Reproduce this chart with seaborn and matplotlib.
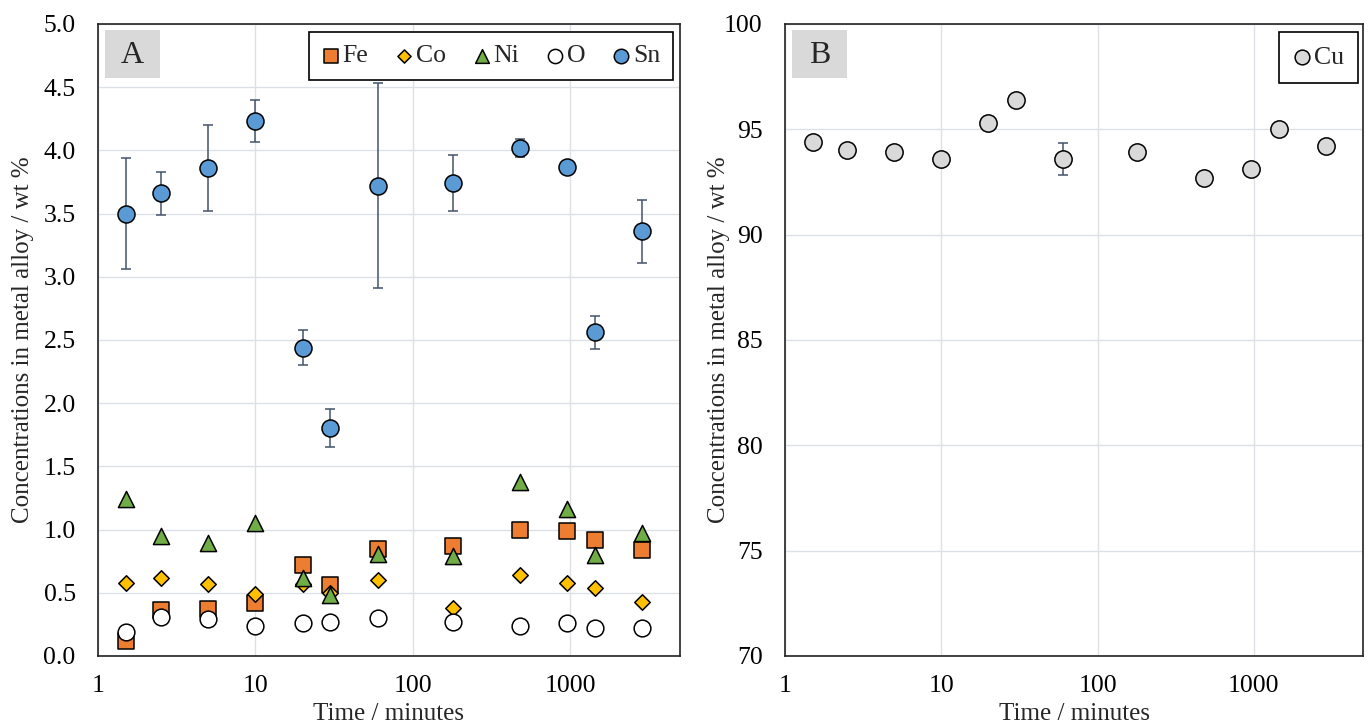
import matplotlib
matplotlib.use("Agg")
import matplotlib.pyplot as plt
import matplotlib.patches as mpatches
import pandas as pd
import seaborn as sns

# sampling times (minutes)
time_min = [1.5, 2.5, 5, 10, 20, 30, 60, 180, 480, 960, 1440, 2880]

fe = [0.12, 0.36, 0.37, 0.42, 0.72, 0.56, 0.85, 0.87, 1.00, 0.99, 0.92, 0.84]
co = [0.58, 0.62, 0.57, 0.49, 0.57, 0.50, 0.60, 0.38, 0.64, 0.58, 0.54, 0.43]
ni = [1.24, 0.95, 0.89, 1.05, 0.62, 0.48, 0.81, 0.79, 1.38, 1.16, 0.80, 0.97]
ox = [0.19, 0.31, 0.29, 0.24, 0.26, 0.27, 0.30, 0.27, 0.24, 0.26, 0.22, 0.22]
sn = [3.50, 3.66, 3.86, 4.23, 2.44, 1.80, 3.72, 3.74, 4.02, 3.87, 2.56, 3.36]
sn_err = [0.44, 0.17, 0.34, 0.165, 0.14, 0.15, 0.81, 0.22, 0.07, 0.03, 0.13, 0.25]

cu = [94.4, 94.0, 93.9, 93.6, 95.3, 96.4, 93.6, 93.9, 92.7, 93.1, 95.0, 94.2]
cu_err = [0.25, 0, 0, 0, 0, 0, 0.75, 0, 0, 0, 0, 0]

left_ticks = [0.0, 0.5, 1.0, 1.5, 2.0, 2.5, 3.0, 3.5, 4.0, 4.5, 5.0]
right_ticks = [70, 75, 80, 85, 90, 95, 100]
x_ticks = [1, 10, 100, 1000]

sns.set_theme(style="whitegrid")
plt.rcParams['font.family'] = ['Liberation Serif', 'DejaVu Serif']

fig = plt.figure(figsize=(13.7, 7.27), dpi=100)
ax_a = fig.add_axes([0.0715, 0.0977, 0.4248, 0.8693])
ax_b = fig.add_axes([0.573, 0.0977, 0.4219, 0.8693])

df = pd.DataFrame({"time": time_min, "Fe": fe, "Co": co, "Ni": ni, "O": ox, "Sn": sn, "Cu": cu})

err_col = "#44546A"

# panel A
ax_a.errorbar(time_min, sn, yerr=sn_err, fmt='none', ecolor=err_col, elinewidth=1.1,
              capsize=3.5, capthick=1.1, zorder=1)
series = [
    ("Fe", "s", "#ED7D31", 140),
    ("Co", "D", "#FFC000", 62),
    ("Ni", "^", "#70AD47", 135),
    ("O", "o", "white", 145),
    ("Sn", "o", "#5B9BD5", 150),
]
for name, mk, col, size in series:
    sns.scatterplot(data=df, x="time", y=name, ax=ax_a, marker=mk, color=col, s=size,
                    edgecolor="black", linewidth=1.1, label=name, zorder=3)

# panel B
ax_b.errorbar(time_min, cu, yerr=cu_err, fmt='none', ecolor=err_col, elinewidth=1.1,
              capsize=3.5, capthick=1.1, zorder=1)
sns.scatterplot(data=df, x="time", y="Cu", ax=ax_b, marker="o", color="#D9D9D9", s=155,
                edgecolor="black", linewidth=1.1, label="Cu", zorder=3)

for ax, ticks, fmt, tag in [(ax_a, left_ticks, "{:.1f}", "A"), (ax_b, right_ticks, "{:d}", "B")]:
    ax.set_xscale("log")
    ax.set_xlim(1, 5000)
    ax.set_ylim(ticks[0], ticks[-1])
    ax.set_xticks(x_ticks)
    ax.set_xticklabels([str(t) for t in x_ticks])
    ax.minorticks_off()
    ax.set_yticks(ticks)
    ax.set_yticklabels([fmt.format(t) for t in ticks])
    ax.tick_params(axis="both", labelsize=18.5, length=0, colors="black")
    ax.tick_params(axis="y", pad=16)
    ax.tick_params(axis="x", pad=14)
    ax.grid(True, color="#DDE1E6", linewidth=1.0)
    for sp in ax.spines.values():
        sp.set_color("#222222")
        sp.set_linewidth(1.2)
    ax.set_xlabel("Time / minutes", fontsize=18)
    ax.set_ylabel("Concentrations in metal alloy / wt %", fontsize=18)
    ax.add_patch(mpatches.Rectangle((0.012, 0.915), 0.095, 0.075, transform=ax.transAxes,
                                    facecolor="#D9D9D9", edgecolor="none", zorder=4))
    ax.text(0.0595, 0.9505, tag, transform=ax.transAxes, fontsize=23, ha="center",
            va="center", zorder=5)

ax_a.xaxis.set_label_coords(0.5, -0.074)
ax_b.xaxis.set_label_coords(0.5, -0.074)
ax_a.yaxis.set_label_coords(-0.11, 0.5)
ax_b.yaxis.set_label_coords(-0.095, 0.5)

leg_a = ax_a.legend(loc="upper right", bbox_to_anchor=(0.988, 0.988), ncol=5, fontsize=18.5,
                    frameon=True, fancybox=False, borderaxespad=0, handletextpad=0.1,
                    handlelength=0.7, columnspacing=1.05, borderpad=0.5, markerscale=0.85)
leg_b = ax_b.legend(loc="upper right", bbox_to_anchor=(0.991, 0.988), fontsize=18.5,
                    frameon=True, fancybox=False, borderaxespad=0, handletextpad=0.1,
                    handlelength=0.7, borderpad=0.55, markerscale=0.85)
for leg in (leg_a, leg_b):
    leg.get_frame().set_edgecolor("black")
    leg.get_frame().set_linewidth(1.2)
    leg.get_frame().set_alpha(1)

fig.savefig("out.png", dpi=100)
plt.close(fig)
